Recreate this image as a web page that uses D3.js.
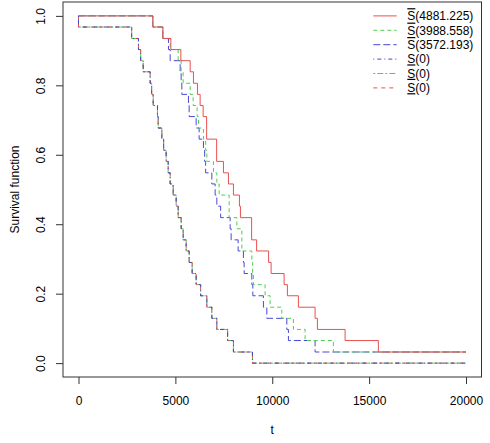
<!DOCTYPE html>
<html>
<head>
<meta charset="utf-8">
<script src="https://cdn.jsdelivr.net/npm/d3@7"></script>
<style>
  body { margin: 0; background: #fff; }
  #chart { width: 490px; height: 443px; }
  svg text { font-family: "Liberation Sans", Arial, sans-serif; font-size: 12px; fill: #000; }
</style>
</head>
<body>
<div id="chart"></div>
<script>
// step times and survival values
const redT = [0, 3838, 4354, 4767, 5283, 5763, 5933, 6139, 6278, 6433, 6614, 7130, 7481, 7739, 7996, 8306, 8358, 8935, 9193, 9812, 9941, 10612, 10782, 11350, 12211, 12330, 13759, 15477];
const redS = [1, 0.968, 0.935, 0.903, 0.871, 0.839, 0.806, 0.774, 0.742, 0.710, 0.645, 0.581, 0.548, 0.516, 0.484, 0.452, 0.419, 0.355, 0.323, 0.290, 0.258, 0.226, 0.194, 0.161, 0.129, 0.097, 0.065, 0.032];

const greenT = [0, 3838, 4354, 4731, 5144, 5298, 5401, 5763, 5917, 6124, 6191, 6449, 6562, 6624, 6965, 7140, 7259, 7775, 8172, 8430, 8946, 8987, 9028, 9632, 9890, 10493, 11092, 11695, 13155];
const greenS = [1, 0.968, 0.935, 0.903, 0.871, 0.839, 0.806, 0.774, 0.742, 0.710, 0.677, 0.645, 0.613, 0.581, 0.548, 0.516, 0.484, 0.419, 0.387, 0.323, 0.290, 0.258, 0.226, 0.194, 0.161, 0.129, 0.097, 0.065, 0.032];

const blueT = [0, 3838, 4354, 4643, 4731, 5247, 5298, 5334, 5675, 5711, 6072, 6227, 6449, 6511, 6562, 6882, 7052, 7140, 7336, 7826, 7878, 8239, 8512, 8549, 8946, 8997, 9544, 9720, 10752, 10834, 12211];
const blueS = [1, 0.968, 0.935, 0.903, 0.871, 0.839, 0.806, 0.774, 0.742, 0.710, 0.677, 0.645, 0.613, 0.581, 0.548, 0.516, 0.484, 0.452, 0.419, 0.387, 0.355, 0.323, 0.290, 0.258, 0.226, 0.194, 0.161, 0.129, 0.097, 0.065, 0.032];

// lower bound S(0), the same for all three
const lowerT = [0, 0, 2745, 3095, 3209, 3338, 3699, 3776, 3854, 4076, 4112, 4303, 4395, 4524, 4628, 4731, 4886, 5041, 5144, 5298, 5401, 5556, 5711, 5866, 6072, 6304, 6624, 6882, 7140, 7697, 7996, 8977];
const lowerS = [1, 0.968, 0.935, 0.903, 0.871, 0.839, 0.806, 0.774, 0.742, 0.710, 0.677, 0.645, 0.613, 0.581, 0.548, 0.516, 0.484, 0.452, 0.419, 0.387, 0.355, 0.323, 0.290, 0.258, 0.226, 0.194, 0.161, 0.129, 0.097, 0.065, 0.032, 0];

const xTicks = [0, 5000, 10000, 15000, 20000];
const yTicks = [0, 0.2, 0.4, 0.6, 0.8, 1.0];
const tMax = 20000;

const legendMarks = ['bar', 'bar', 'bar', 'under', 'under', 'under'];
const legendValues = ['4881.225', '3988.558', '3572.193', '0', '0', '0'];

// series in legend order; z gives the drawing order
const series = [
    {t: redT, s: redS, col: '#e8504f', dash: null, z: 2},
    {t: greenT, s: greenS, col: '#4fcf4f', dash: '4,3', z: 1},
    {t: blueT, s: blueS, col: '#4848d8', dash: '7,3', z: 0},
    {t: lowerT, s: lowerS, col: '#4444cc', dash: '1,3,4,3', z: 5},
    {t: lowerT, s: lowerS, col: '#4fcf4f', dash: '2,2,6,2', z: 3},
    {t: lowerT, s: lowerS, col: '#e8504f', dash: '4,4', z: 4}
];

const root = document.getElementById('chart');
const clientWidth = 490;
const clientHeight = 443;
const margin = {t: 2, r: 8.5, b: 66, l: 63};
const w = clientWidth - (margin.l + margin.r);
const h = clientHeight - (margin.t + margin.b);

const svg = d3.select(root)
    .append('svg')
    .attr('width', clientWidth)
    .attr('height', clientHeight);

const plot = svg.append('g')
    .attr('transform', `translate(${margin.l},${margin.t})`);

// R style 4% padding around the data range
const scaleX = d3.scaleLinear()
    .domain([-0.04 * tMax, 1.04 * tMax])
    .range([0, w]);
const scaleY = d3.scaleLinear()
    .domain([-0.04, 1.04])
    .range([h, 0]);

// axes
const axisX = d3.axisBottom(scaleX)
    .tickValues(xTicks)
    .tickSize(7)
    .tickPadding(12.5)
    .tickFormat(d3.format('d'));
const axisXNode = plot.append('g')
    .attr('transform', `translate(0,${h})`)
    .call(axisX);
axisXNode.select('.domain').remove();

const axisY = d3.axisLeft(scaleY)
    .tickValues(yTicks)
    .tickSize(7)
    .tickFormat(d3.format('.1f'));
const axisYNode = plot.append('g')
    .call(axisY);
axisYNode.select('.domain').remove();
axisYNode.selectAll('text')
    .attr('x', 0)
    .attr('dy', 0)
    .attr('text-anchor', 'middle')
    .attr('transform', 'translate(-18.5,0) rotate(-90)');

plot.selectAll('.tick line').attr('stroke', '#333');
plot.selectAll('.tick text').attr('font-size', 12).attr('font-family', '"Liberation Sans", Arial, sans-serif');

// curves
const line = d3.line()
    .x(d => scaleX(d[0]))
    .y(d => scaleY(d[1]))
    .curve(d3.curveStepAfter);

series.slice().sort((a, b) => a.z - b.z).forEach(sr => {
    const pts = sr.t.map((t, i) => [t, sr.s[i]]);
    pts.push([tMax, sr.s[sr.s.length - 1]]);
    plot.append('path')
        .datum(pts)
        .attr('fill', 'none')
        .attr('stroke', sr.col)
        .attr('stroke-width', 1)
        .attr('stroke-dasharray', sr.dash)
        .attr('d', line);
});

// box
plot.append('rect')
    .attr('x', 0)
    .attr('y', 0)
    .attr('width', w)
    .attr('height', h)
    .attr('fill', 'none')
    .attr('stroke', '#333');

// axis titles
svg.append('text')
    .attr('x', margin.l + w / 2)
    .attr('y', 434)
    .attr('text-anchor', 'middle')
    .text('t');
svg.append('text')
    .attr('transform', `translate(18.5,${margin.t + h / 2}) rotate(-90)`)
    .attr('text-anchor', 'middle')
    .text('Survival function');

// legend
const legend = svg.append('g');
series.forEach((sr, i) => {
    const y = 15.9 + i * 14.4;
    legend.append('line')
        .attr('x1', 373.3)
        .attr('x2', 396.7)
        .attr('y1', y)
        .attr('y2', y)
        .attr('stroke', sr.col)
        .attr('stroke-dasharray', sr.dash);
    const txt = legend.append('text')
        .attr('x', 407.3)
        .attr('y', y + 4.3);
    txt.append('tspan')
        .style('text-decoration', legendMarks[i] === 'bar' ? 'overline' : 'underline')
        .text('S');
    txt.append('tspan')
        .text(`(${legendValues[i]})`);
});
</script>
</body>
</html>
